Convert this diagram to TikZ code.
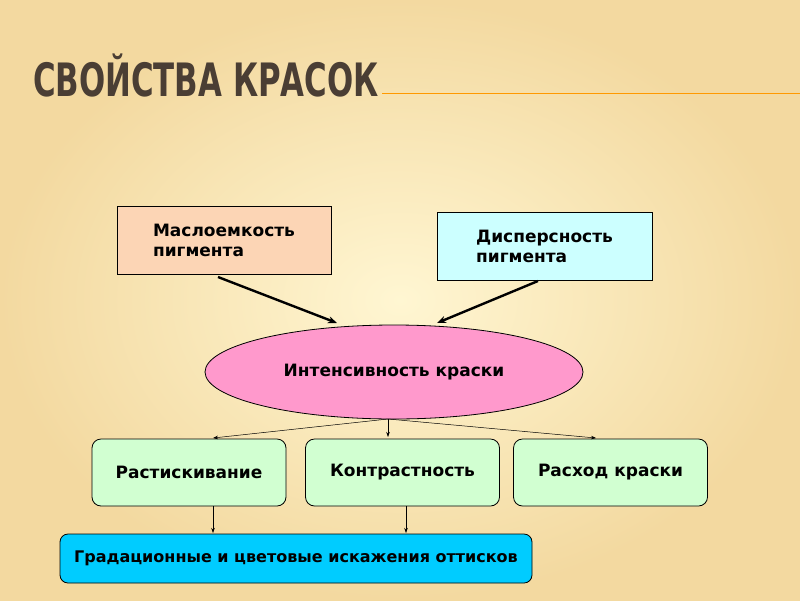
\documentclass[tikz,border=0pt]{standalone}
\usepackage{fontspec}
\setmainfont{DejaVu Sans}
\newfontfamily\titlefont{DejaVu Sans Condensed}
\usetikzlibrary{shapes.geometric,arrows.meta}
\definecolor{bgA}{HTML}{FFF6D2}
\definecolor{bgB}{HTML}{F3D9A0}
\definecolor{ttl}{HTML}{4A3E34}
\tikzset{
 box/.style={draw=black,line width=0.8pt,minimum width=#1,minimum height=68pt,font=\bfseries\fontsize{17}{20}\selectfont,align=left},
 rbox/.style={draw=black,line width=0.8pt,rounded corners=9pt,minimum width=194pt,minimum height=67pt,fill=green!18,font=\bfseries\fontsize{17}{20}\selectfont},
 thick arrow/.style={-{Stealth[length=9pt,width=7pt]},line width=2.4pt},
 thin arrow/.style={-{Stealth[length=5pt,width=3.5pt]},line width=0.5pt}
}
\begin{document}
\begin{tikzpicture}[x=1pt,y=-1pt]
\useasboundingbox (0,0) rectangle (800,600);
\shade[inner color=bgA,outer color=bgB] (0,0) rectangle (800,600);
\node[anchor=base west,text=ttl,font=\titlefont\bfseries\fontsize{46}{50}\selectfont,inner sep=0,xscale=0.745] (title) at (33,96) {СВОЙСТВА КРАСОК};
\coordinate (l1) at (382,93); \coordinate (l2) at (800,93);
\draw[orange!80!yellow,line width=1pt] (l1) -- (l2);
\node[box=214pt,fill={rgb,255:red,252;green,213;blue,181}] (m) at (224,240.5) {Маслоемкость\\пигмента};
\node[box=215pt,minimum height=68pt,fill={rgb,255:red,204;green,255;blue,255}] (d) at (544.5,246) {Дисперсность\\пигмента};
\node[ellipse,draw=black,line width=0.8pt,fill={rgb,255:red,255;green,153;blue,204},minimum width=378pt,minimum height=94pt,font=\bfseries\fontsize{17}{20}\selectfont] (e) at (394,372) {Интенсивность краски};
\node[rbox] (r1) at (189,472.5) {Растискивание};
\node[rbox] (r2) at (402.5,472.5) {Контрастность};
\node[rbox] (r3) at (610.5,472.5) {Расход краски};
\node[draw=black,line width=0.8pt,rounded corners=8pt,fill={rgb,255:red,0;green,204;blue,255},minimum width=472pt,minimum height=49pt,font=\bfseries\fontsize{16}{19}\selectfont] (g) at (296,558.5) {Градационные и цветовые искажения оттисков};
\coordinate (ms) at (218,277); \coordinate (me) at (337,323);
\coordinate (ds) at (538,281); \coordinate (de) at (437,323);
\draw[thick arrow] (ms) -- (me);
\draw[thick arrow] (ds) -- (de);
\coordinate (eb) at (388,419);
\draw[thin arrow] (eb) -- (213,438);
\draw[thin arrow] (eb) -- (388,437);
\draw[thin arrow] (eb) -- (596,438);
\draw[thin arrow] (213,506) -- (213,533);
\draw[thin arrow] (406,506) -- (406,533);
\end{tikzpicture}
\end{document}
